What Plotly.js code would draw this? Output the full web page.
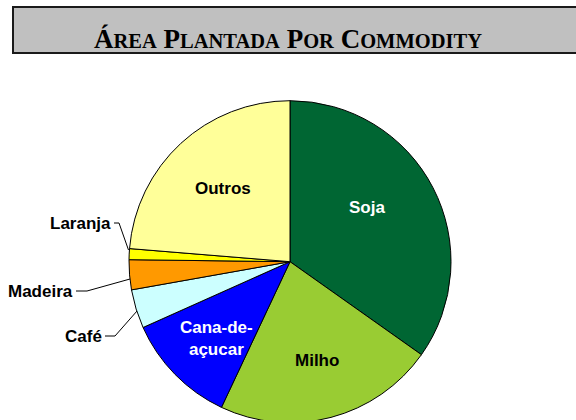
<!DOCTYPE html>
<html>
<head>
<meta charset="utf-8">
<script src="https://cdn.plot.ly/plotly-3.0.1.min.js"></script>
<style>
html,body{margin:0;padding:0;overflow:hidden;background:#fff;}
#chart{width:576px;height:430px;}
</style>
</head>
<body>
<div id="chart"></div>
<script>
// ---- data ----
const categories = ["Soja", "Milho", "Cana-de-açucar", "Café", "Madeira", "Laranja", "Outros"];
const values = [34.8, 22.2, 11.3, 3.9, 3.0, 1.1, 23.7];
const labelText = ["Soja", "Milho", "Cana-de-<br>açucar", "Café", "Madeira", "Laranja", "Outros"];

// ---- styles / positions ----
const colors = ["#006633", "#99CC33", "#0000FF", "#CCFFFF", "#FF9900", "#FFFF00", "#FFFF99"];
const textColors = ["#FFFFFF", "#000000", "#FFFFFF", "#000000", "#000000", "#000000", "#000000"];
const W = 576, H = 430;
const px = x => x / W;
const py = y => 1 - y / H;
// label anchor pixel positions [x, y, xanchor]
const labelPos = [
  [367, 207, "center"],
  [317, 360, "center"],
  [216, 338, "center"],
  [104, 336, "right"],
  [75, 291, "right"],
  [113, 223, "right"],
  [223, 188, "center"]
];
// leader lines (pixel) for outside labels
const leaders = {
  3: [[105, 336], [115, 336], [137, 311]],
  4: [[76, 291], [87, 291], [130, 279]],
  5: [[114, 223], [119, 223], [128.5, 250]]
};

const labelFont = {family: "Liberation Sans, Arial, sans-serif", size: 17, color: "#000"};

const annotations = categories.map((c, i) => ({
  xref: "paper", yref: "paper",
  x: px(labelPos[i][0]), y: py(labelPos[i][1]),
  xanchor: labelPos[i][2], yanchor: "middle",
  text: "<b>" + labelText[i] + "</b>",
  showarrow: false,
  font: Object.assign({}, labelFont, {color: textColors[i]})
}));

const sc = s => "<span style='font-size:20.5px'>" + s + "</span>";
annotations.push({
  xref: "paper", yref: "paper",
  x: px(288), y: py(39), xanchor: "center", yanchor: "middle",
  text: "<b>Á" + sc("REA") + " P" + sc("LANTADA") + " P" + sc("OR") + " C" + sc("OMMODITY") + "</b>",
  showarrow: false,
  font: {family: "Liberation Serif, Times New Roman, serif", size: 27, color: "#000"}
});

const shapes = [{
  type: "rect", xref: "paper", yref: "paper",
  x0: px(13), x1: px(590), y0: py(53), y1: py(7),
  fillcolor: "#C0C0C0", line: {color: "#1a1a1a", width: 2}, layer: "below"
}];
Object.keys(leaders).forEach(k => {
  const pts = leaders[k];
  const path = pts.map((p, j) => (j === 0 ? "M" : "L") + px(p[0]) + "," + py(p[1])).join(" ");
  shapes.push({type: "path", xref: "paper", yref: "paper", path: path, line: {color: "#000", width: 1}});
});

const trace = {
  type: "pie",
  labels: categories,
  values: values,
  sort: false,
  direction: "clockwise",
  rotation: 0,
  textinfo: "none",
  hoverinfo: "label+percent",
  marker: {colors: colors, line: {color: "#000", width: 1}},
  domain: {x: [px(129), px(451)], y: [(H - 261.7 - 161) / H, (H - 261.7 + 161) / H]},
  showlegend: false
};

const layout = {
  width: W, height: H,
  margin: {l: 0, r: 0, t: 0, b: 0},
  paper_bgcolor: "#FFFFFF",
  showlegend: false,
  annotations: annotations,
  shapes: shapes
};

Plotly.newPlot("chart", [trace], layout, {displayModeBar: false, staticPlot: true});
</script>
</body>
</html>
